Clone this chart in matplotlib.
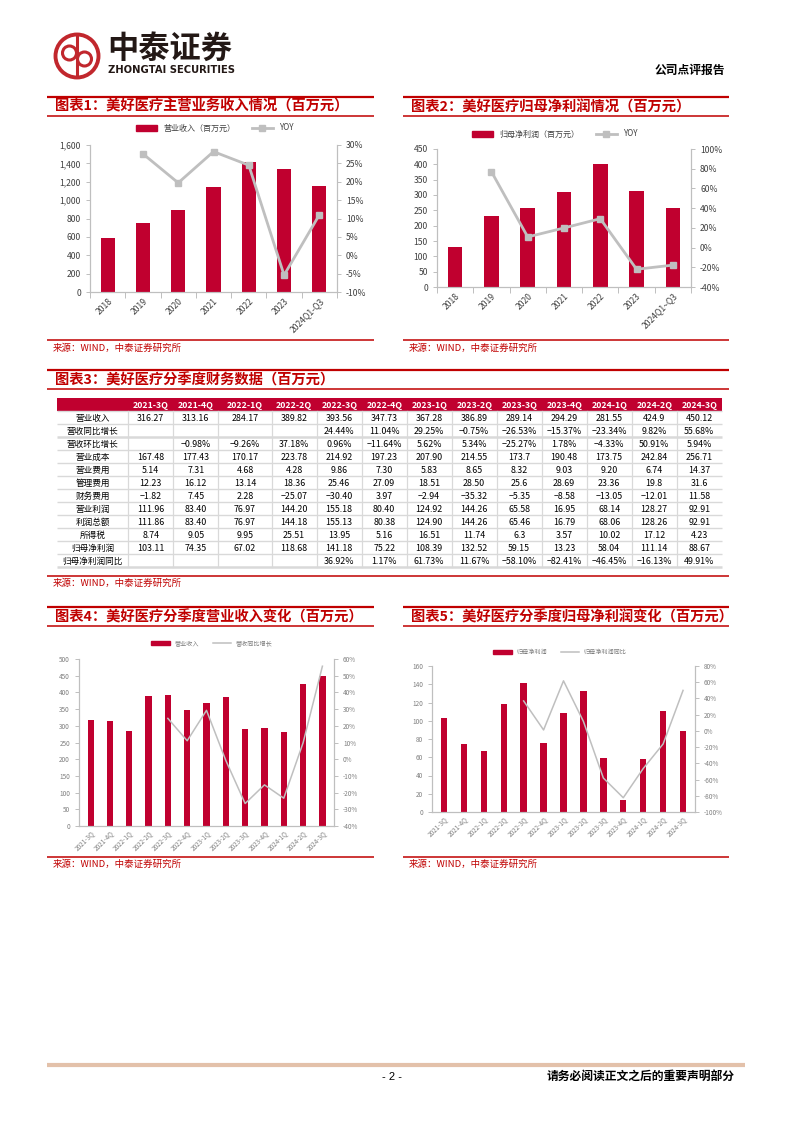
import matplotlib
matplotlib.use('Agg')
import matplotlib.pyplot as plt
from matplotlib.patches import Rectangle, Circle
from matplotlib.lines import Line2D
import matplotlib.ticker as mticker

plt.rcParams['font.family'] = ['Noto Sans CJK SC', 'DejaVu Sans']
plt.rcParams['axes.unicode_minus'] = False

W, H = 793, 1122
RED = '#C00000'
BAR = '#C0002F'
LINEC = '#BFBFBF'
AXC = '#BFBFBF'

# ---------------- data ----------------
years = ['2018', '2019', '2020', '2021', '2022', '2023', '2024Q1-Q3']
years2 = ['2018', '2019', '2020', '2021', '2022', '2023', '2024Q1~Q3']
annual_rev = [584, 748, 892, 1143, 1418, 1342, 1157]
annual_rev_yoy = [None, 27.6, 19.7, 28.2, 24.5, -5.4, 11.0]
annual_np = [129, 231, 257, 309, 401, 312, 258]
annual_np_yoy = [None, 77.0, 10.8, 19.9, 29.3, -22.0, -17.8]

quarters = ['2021-3Q', '2021-4Q', '2022-1Q', '2022-2Q', '2022-3Q', '2022-4Q', '2023-1Q',
            '2023-2Q', '2023-3Q', '2023-4Q', '2024-1Q', '2024-2Q', '2024-3Q']
q_rev = [316.27, 313.16, 284.17, 389.82, 393.56, 347.73, 367.28, 386.89, 289.14, 294.29,
         281.55, 424.9, 450.12]
q_rev_yoy = [None, None, None, None, 24.44, 11.04, 29.25, -0.75, -26.53, -15.37, -23.34,
             9.82, 55.68]
q_np = [103.11, 74.35, 67.02, 118.68, 141.18, 75.22, 108.39, 132.52, 59.15, 13.23, 58.04,
        111.14, 88.67]
q_np_yoy = [None, None, None, None, 36.92, 1.17, 61.73, 11.67, -58.10, -82.41, -46.45,
            -16.13, 49.91]

row_labels = ['营业收入', '营收同比增长', '营收环比增长', '营业成本', '营业费用', '管理费用',
              '财务费用', '营业利润', '利润总额', '所得税', '归母净利润', '归母净利润同比']
t_rev = ['316.27', '313.16', '284.17', '389.82', '393.56', '347.73', '367.28', '386.89',
         '289.14', '294.29', '281.55', '424.9', '450.12']
t_rev_yoy = ['', '', '', '', '24.44%', '11.04%', '29.25%', '−0.75%', '−26.53%', '−15.37%',
             '−23.34%', '9.82%', '55.68%']
t_rev_qoq = ['', '−0.98%', '−9.26%', '37.18%', '0.96%', '−11.64%', '5.62%', '5.34%',
             '−25.27%', '1.78%', '−4.33%', '50.91%', '5.94%']
t_cost = ['167.48', '177.43', '170.17', '223.78', '214.92', '197.23', '207.90', '214.55',
          '173.7', '190.48', '173.75', '242.84', '256.71']
t_sell = ['5.14', '7.31', '4.68', '4.28', '9.86', '7.30', '5.83', '8.65', '8.32', '9.03',
          '9.20', '6.74', '14.37']
t_admin = ['12.23', '16.12', '13.14', '18.36', '25.46', '27.09', '18.51', '28.50', '25.6',
           '28.69', '23.36', '19.8', '31.6']
t_fin = ['−1.82', '7.45', '2.28', '−25.07', '−30.40', '3.97', '−2.94', '−35.32', '−5.35',
         '−8.58', '−13.05', '−12.01', '11.58']
t_op = ['111.96', '83.40', '76.97', '144.20', '155.18', '80.40', '124.92', '144.26', '65.58',
        '16.95', '68.14', '128.27', '92.91']
t_total = ['111.86', '83.40', '76.97', '144.18', '155.13', '80.38', '124.90', '144.26',
           '65.46', '16.79', '68.06', '128.26', '92.91']
t_tax = ['8.74', '9.05', '9.95', '25.51', '13.95', '5.16', '16.51', '11.74', '6.3', '3.57',
         '10.02', '17.12', '4.23']
t_np = ['103.11', '74.35', '67.02', '118.68', '141.18', '75.22', '108.39', '132.52', '59.15',
        '13.23', '58.04', '111.14', '88.67']
t_np_yoy = ['', '', '', '', '36.92%', '1.17%', '61.73%', '11.67%', '−58.10%', '−82.41%',
            '−46.45%', '−16.13%', '49.91%']
table_rows = [t_rev, t_rev_yoy, t_rev_qoq, t_cost, t_sell, t_admin, t_fin, t_op, t_total,
              t_tax, t_np, t_np_yoy]

source_txt = '来源：WIND，中泰证券研究所'

# ---------------- figure ----------------
fig = plt.figure(figsize=(W / 100, H / 100), dpi=100)
bg = fig.add_axes([0, 0, 1, 1])
bg.set_xlim(0, W)
bg.set_ylim(H, 0)
bg.axis('off')


def rect(l, t, r, b):
    return [l / W, 1 - b / H, (r - l) / W, (b - t) / H]


# header: logo
bg.add_patch(Circle((77, 56), 21.5, fill=False, ec='#C1272D', lw=2.8))
bg.add_patch(Circle((69.5, 53), 7.0, fill=False, ec='#C1272D', lw=2.2))
bg.add_patch(Circle((84.5, 59), 7.0, fill=False, ec='#C1272D', lw=2.2))
bg.plot([77, 77], [37, 75], color='#C1272D', lw=2.2)
bg.text(107, 49, '中泰证券', fontsize=22.5, fontweight='bold', color='#231815',
        va='center', ha='left')
bg.text(108, 69.5, 'ZHONGTAI SECURITIES', fontsize=7.2, fontweight='bold', color='#231815',
        va='center', ha='left', family=['DejaVu Sans'])
bg.text(725, 70, '公司点评报告', fontsize=8.5, fontweight='bold', color='black',
        va='center', ha='right')

# footer
bg.plot([47, 745], [1065, 1065], color='#E3C1AA', lw=3, solid_capstyle='butt')
bg.text(392, 1077, '- 2 -', fontsize=8, ha='center', va='center', family=['Liberation Sans'])
bg.text(735, 1077, '请务必阅读正文之后的重要声明部分', fontsize=8.5, fontweight='bold',
        ha='right', va='center')


def title_block(x0, x1, ytop, ybot, text, src_line=None, src_y=None):
    bg.plot([x0, x1], [ytop, ytop], color=RED, lw=1.6, solid_capstyle='butt')
    bg.plot([x0, x1], [ybot, ybot], color=RED, lw=1.1, solid_capstyle='butt')
    bg.text(x0 + 8, (ytop + ybot) / 2 + 0.5, text, fontsize=10.3, fontweight='bold',
            color=RED, ha='left', va='center')
    if src_line is not None:
        bg.plot([x0, x1], [src_line, src_line], color=RED, lw=1.1, solid_capstyle='butt')
        bg.text(x0 + 6, src_y, source_txt, fontsize=6.8, color=RED, ha='left', va='center')


title_block(47, 374, 97, 116, '图表1：美好医疗主营业务收入情况（百万元）', 340, 348)
title_block(403, 729, 97, 116, '图表2：美好医疗归母净利润情况（百万元）', 340, 348)
title_block(47, 729, 370, 389, '图表3：美好医疗分季度财务数据（百万元）', 576, 583)
title_block(47, 374, 607, 626, '图表4：美好医疗分季度营业收入变化（百万元）', 857, 864)
title_block(403, 729, 607, 626, '图表5：美好医疗分季度归母净利润变化（百万元）', 857, 864)

# ---------------- table ----------------
col_edges = [57, 128.3, 173.3, 218.3, 271.7, 316.7, 361.7, 406.7, 451.7, 496.7, 541.7,
             586.7, 631.7, 676.7, 721.7]
head_top, head_bot = 398, 411
row_h = 13
n_rows = len(row_labels)
bg.add_patch(Rectangle((col_edges[0], head_top), col_edges[-1] - col_edges[0],
                       head_bot - head_top, color=BAR, lw=0))
for j, q in enumerate(quarters):
    cx = (col_edges[j + 1] + col_edges[j + 2]) / 2
    bg.text(cx, (head_top + head_bot) / 2 + 0.5, q, color='white', fontsize=6.3,
            fontweight='bold', ha='center', va='center')
body_bot = head_bot + n_rows * row_h
for i in range(n_rows + 1):
    y = head_bot + i * row_h
    lw = 1.8 if i in (2, n_rows) else 1.0
    bg.plot([col_edges[0], col_edges[-1]], [y, y], color='#D9D9D9', lw=lw,
            solid_capstyle='butt', zorder=1)
for x in col_edges[1:-1]:
    bg.plot([x, x], [head_bot, body_bot], color='#D9D9D9', lw=0.9, zorder=1)
for i, lab in enumerate(row_labels):
    cy = head_bot + (i + 0.5) * row_h + 0.5
    bg.text((col_edges[0] + col_edges[1]) / 2, cy, lab, fontsize=6.2, ha='center',
            va='center', color='black')
    for j, v in enumerate(table_rows[i]):
        cx = (col_edges[j + 1] + col_edges[j + 2]) / 2
        bg.text(cx, cy, v, fontsize=6.4, ha='center', va='center', color='black')


# ---------------- charts ----------------
def style_axes(ax, ax2, fs, tcol):
    for a in (ax, ax2):
        a.spines['top'].set_visible(False)
        for s in ('left', 'right', 'bottom'):
            a.spines[s].set_color(AXC)
            a.spines[s].set_linewidth(0.8)
        a.tick_params(axis='both', colors=AXC, labelcolor=tcol, labelsize=fs,
                      length=3, width=0.7)
    ax.patch.set_alpha(0)
    ax2.patch.set_alpha(0)


def annual_chart(rct, cats, bars, yoy, ylim, ystep, rlim, rstep, leg_label, leg_xy,
                 comma):
    ax = fig.add_axes(rect(*rct))
    x = list(range(len(cats)))
    ax.bar(x, bars, width=0.4, color=BAR, zorder=2)
    ax.set_xlim(-0.5, len(cats) - 0.5)
    ax.set_ylim(*ylim)
    ax.set_yticks([ylim[0] + k * ystep for k in range(int(round((ylim[1] - ylim[0]) / ystep)) + 1)])
    if comma:
        ax.yaxis.set_major_formatter(mticker.FuncFormatter(lambda v, p: f'{int(v):,}'))
    ax2 = ax.twinx()
    xs = [i for i, v in enumerate(yoy) if v is not None]
    ys = [v for v in yoy if v is not None]
    ax2.plot(xs, ys, color=LINEC, lw=2, marker='s', ms=5, zorder=3)
    ax2.set_ylim(*rlim)
    ax2.set_yticks([rlim[0] + k * rstep for k in range(int(round((rlim[1] - rlim[0]) / rstep)) + 1)])
    ax2.yaxis.set_major_formatter(mticker.FuncFormatter(lambda v, p: f'{v:.0f}%'))
    ax.set_xticks(x)
    ax.set_xticklabels(cats, rotation=45, ha='right', rotation_mode='anchor')
    ax.set_xticks([i - 0.5 for i in range(len(cats) + 1)], minor=True)
    style_axes(ax, ax2, 6.2, '#404040')
    ax.tick_params(axis='x', which='major', length=0, pad=3)
    ax.tick_params(axis='x', which='minor', length=4, color=AXC, width=0.7)
    handles = [Rectangle((0, 0), 1, 1, color=BAR),
               Line2D([], [], color=LINEC, lw=2, marker='s', ms=4)]
    ax.legend(handles, [leg_label, 'YOY'], loc='center',
              bbox_to_anchor=(leg_xy[0] / W, 1 - leg_xy[1] / H), bbox_transform=fig.transFigure,
              ncol=2, frameon=False, fontsize=5.8, handlelength=2.6, handleheight=0.8,
              columnspacing=2.0, labelcolor='#404040')
    return ax, ax2


annual_chart((90, 145, 337, 292), years, annual_rev, annual_rev_yoy, (0, 1600), 200,
             (-10, 30), 5, '营业收入（百万元）', (215, 128), True)
annual_chart((437, 149, 691, 287), years2, annual_np, annual_np_yoy, (0, 450), 50,
             (-40, 100), 20, '归母净利润（百万元）', (555, 134), False)


def quarter_chart(rct, bars, yoy, ylim, ystep, rlim, rstep, labels, leg_xy):
    ax = fig.add_axes(rect(*rct))
    x = list(range(len(quarters)))
    ax.bar(x, bars, width=0.32, color=BAR, zorder=2)
    ax.set_xlim(-0.6, len(quarters) - 0.4)
    ax.set_ylim(*ylim)
    ax.set_yticks([ylim[0] + k * ystep for k in range(int(round((ylim[1] - ylim[0]) / ystep)) + 1)])
    ax2 = ax.twinx()
    xs = [i for i, v in enumerate(yoy) if v is not None]
    ys = [v for v in yoy if v is not None]
    ax2.plot(xs, ys, color=LINEC, lw=1.1, zorder=3)
    ax2.set_ylim(*rlim)
    ax2.set_yticks([rlim[0] + k * rstep for k in range(int(round((rlim[1] - rlim[0]) / rstep)) + 1)])
    ax2.yaxis.set_major_formatter(mticker.FuncFormatter(lambda v, p: f'{v:.0f}%'))
    ax.set_xticks(x)
    ax.set_xticklabels(quarters, rotation=45, ha='right', rotation_mode='anchor')
    style_axes(ax, ax2, 4.6, '#7F7F7F')
    ax.tick_params(axis='x', length=0, pad=2)
    handles = [Rectangle((0, 0), 1, 1, color=BAR),
               Line2D([], [], color=LINEC, lw=1.1)]
    ax.legend(handles, labels, loc='center',
              bbox_to_anchor=(leg_xy[0] / W, 1 - leg_xy[1] / H), bbox_transform=fig.transFigure,
              ncol=2, frameon=False, fontsize=4.4, handlelength=3.0, handleheight=0.5,
              columnspacing=2.2, labelcolor='#7F7F7F')


quarter_chart((79, 659, 334, 826), q_rev, q_rev_yoy, (0, 500), 50, (-40, 60), 10,
              ['营业收入', '营收同比增长'], (212, 643))
quarter_chart((432, 666, 695, 812), q_np, q_np_yoy, (0, 160), 20, (-100, 80), 20,
              ['归母净利润', '归母净利润同比'], (560, 652))

fig.savefig('out.png', dpi=100)
